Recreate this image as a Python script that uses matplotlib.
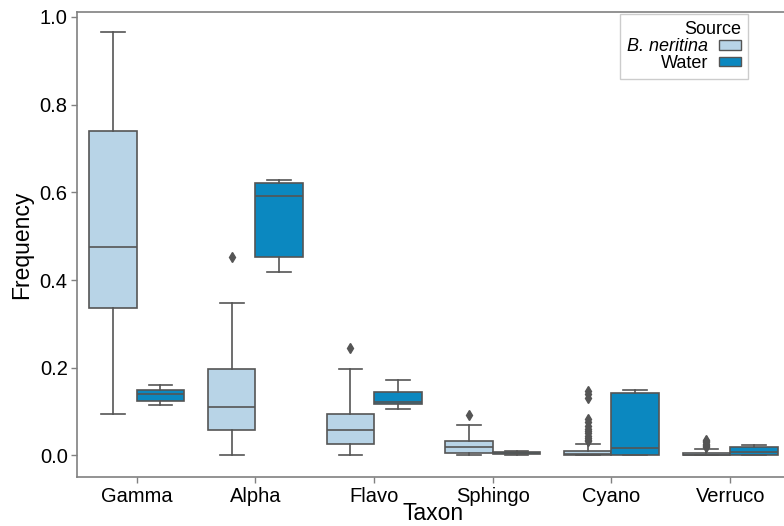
import matplotlib
matplotlib.use('Agg')
import matplotlib.pyplot as plt
from matplotlib.patches import Patch

plt.rcParams['font.family'] = ['Liberation Sans', 'DejaVu Sans']

taxa = ['Gamma', 'Alpha', 'Flavo', 'Sphingo', 'Cyano', 'Verruco']
sources = ['B. neritina', 'Water']
colors = ['#b8d4e7', '#0b88c0']

# B. neritina box statistics
bn_whislo = [0.094, 0.002, 0.0, 0.0, 0.0, 0.0]
bn_q1 = [0.336, 0.057, 0.025, 0.006, 0.001, 0.0]
bn_med = [0.475, 0.110, 0.057, 0.018, 0.003, 0.002]
bn_q3 = [0.739, 0.196, 0.095, 0.032, 0.010, 0.006]
bn_whishi = [0.965, 0.348, 0.198, 0.070, 0.027, 0.015]
bn_fliers = [[], [0.452], [0.245], [0.091],
             [0.032, 0.036, 0.040, 0.045, 0.050, 0.055, 0.060, 0.068,
              0.076, 0.083, 0.132, 0.140, 0.146],
             [0.018, 0.021, 0.024, 0.027, 0.030, 0.033, 0.036]]

# Water box statistics
w_whislo = [0.116, 0.4185, 0.105, 0.002, 0.0, 0.0]
w_q1 = [0.123, 0.452, 0.118, 0.004, 0.0, 0.0]
w_med = [0.1405, 0.592, 0.122, 0.006, 0.017, 0.007]
w_q3 = [0.1497, 0.621, 0.145, 0.008, 0.143, 0.020]
w_whishi = [0.1595, 0.629, 0.171, 0.010, 0.150, 0.024]
w_fliers = [[], [], [], [], [], []]

yticks = [0.0, 0.2, 0.4, 0.6, 0.8, 1.0]

W, H = 784, 526
fig = plt.figure(figsize=(W / 100, H / 100), dpi=100)
ax = fig.add_axes([77.4 / W, 1 - 477.3 / H, (789.5 - 77.4) / W, (477.3 - 11.7) / H])

edge = '#555555'
series = [
    (bn_whislo, bn_q1, bn_med, bn_q3, bn_whishi, bn_fliers),
    (w_whislo, w_q1, w_med, w_q3, w_whishi, w_fliers),
]
offsets = [-0.2, 0.2]
for s, (lo, q1, med, q3, hi, fl) in enumerate(series):
    stats = []
    for i in range(len(taxa)):
        stats.append(dict(whislo=lo[i], q1=q1[i], med=med[i], q3=q3[i],
                          whishi=hi[i], fliers=fl[i], label=taxa[i]))
    pos = [i + offsets[s] for i in range(len(taxa))]
    ax.bxp(stats, positions=pos, widths=0.4, capwidths=0.2, patch_artist=True,
           manage_ticks=False, showfliers=True,
           boxprops=dict(facecolor=colors[s], edgecolor=edge, linewidth=1.2),
           medianprops=dict(color=edge, linewidth=1.2),
           whiskerprops=dict(color=edge, linewidth=1.2),
           capprops=dict(color=edge, linewidth=1.2),
           flierprops=dict(marker='d', markerfacecolor=edge, markeredgecolor=edge,
                           markersize=5, linestyle='none'))

ax.set_xlim(-0.5, len(taxa) - 0.5)
ax.set_ylim(-0.05, 1.012)
ax.set_xticks(range(len(taxa)))
ax.set_xticklabels(taxa)
ax.set_yticks(yticks)
ax.set_yticklabels([f'{v:.1f}' for v in yticks])
ax.tick_params(axis='both', labelsize=14.5, length=4, width=1, color='#808080', pad=3)
for sp in ax.spines.values():
    sp.set_color('#808080')
    sp.set_linewidth(1.2)

ax.set_xlabel('Taxon', fontsize=16.5, labelpad=-3)
ax.set_ylabel('Frequency', fontsize=16.5, labelpad=5)

handles = [Patch(facecolor=colors[i], edgecolor=edge, linewidth=1) for i in range(2)]
leg = fig.legend(handles, sources, loc='upper right',
                 bbox_to_anchor=(748 / W, 1 - 14 / H), bbox_transform=fig.transFigure,
                 borderaxespad=0, markerfirst=False, title='Source',
                 fontsize=13, title_fontsize=13, handlelength=1.2, handleheight=0.45,
                 labelspacing=-0.02, handletextpad=0.6, borderpad=0.4,
                 fancybox=False, edgecolor='#cccccc', framealpha=1)
leg._legend_box.align = 'right'
leg._legend_box.sep = 0
leg.get_texts()[0].set_style('italic')

fig.savefig('out.png', dpi=100)
